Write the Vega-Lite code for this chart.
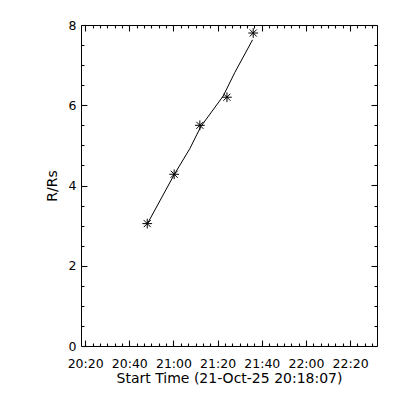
{
  "$schema": "https://vega.github.io/schema/vega-lite/v6.json",
  "width": 296,
  "height": 321,
  "autosize": {"type": "none"},
  "padding": {"left": 81, "top": 25, "right": 23, "bottom": 54},
  "background": "white",
  "config": {
    "view": {"stroke": "black", "strokeWidth": 1},
    "axis": {
      "grid": false,
      "domain": false,
      "ticks": true,
      "labelFont": "DejaVu Sans",
      "labelFontSize": 12.5,
      "labelColor": "black",
      "titleFont": "DejaVu Sans",
      "titleFontSize": 14,
      "titleFontWeight": "normal",
      "titleColor": "black",
      "labelFlush": false,
      "labelOverlap": false
    }
  },
  "datasets": {
    "fit": [
      {"time": "2025-10-21T20:48:07Z", "r": 3.04},
      {"time": "2025-10-21T21:00:19Z", "r": 4.27},
      {"time": "2025-10-21T21:07:25Z", "r": 4.92},
      {"time": "2025-10-21T21:12:25Z", "r": 5.47},
      {"time": "2025-10-21T21:22:31Z", "r": 6.23},
      {"time": "2025-10-21T21:27:49Z", "r": 6.82},
      {"time": "2025-10-21T21:35:49Z", "r": 7.63}
    ],
    "obs": [
      {"time": "2025-10-21T20:48:07Z", "r": 3.05},
      {"time": "2025-10-21T21:00:19Z", "r": 4.28},
      {"time": "2025-10-21T21:11:57Z", "r": 5.5},
      {"time": "2025-10-21T21:24:13Z", "r": 6.2},
      {"time": "2025-10-21T21:36:07Z", "r": 7.8}
    ]
  },
  "layer": [
    {
      "data": {"name": "obs"},
      "mark": {"type": "point", "opacity": 0},
      "encoding": {
        "x": {
          "field": "time", "type": "temporal",
          "scale": {"type": "utc", "domain": [1761077887000, 1761085931000]},
          "axis": {
            "orient": "bottom", "labels": false, "title": null, "tickSize": -3, "tickColor": "#010101", "tickWidth": 1.1,
            "values": [1761078200000,1761078400000,1761078600000,1761078800000,1761079000000,1761079400000,1761079600000,1761079800000,1761080000000,1761080200000,1761080600000,1761080800000,1761081000000,1761081200000,1761081400000,1761081800000,1761082000000,1761082200000,1761082400000,1761082600000,1761083000000,1761083200000,1761083400000,1761083600000,1761083800000,1761084200000,1761084400000,1761084600000,1761084800000,1761085000000,1761085400000,1761085600000,1761085800000]
          }
        },
        "y": {
          "field": "r", "type": "quantitative",
          "scale": {"domain": [0, 8], "nice": false, "zero": false},
          "axis": {
            "orient": "left", "labels": false, "title": null, "tickSize": -3, "tickColor": "#020202", "tickWidth": 1.1,
            "values": [0.5,1,1.5,2.5,3,3.5,4.5,5,5.5,6.5,7,7.5]
          }
        }
      }
    },
    {
      "data": {"name": "obs"},
      "mark": {"type": "point", "opacity": 0},
      "encoding": {
        "x": {
          "field": "time", "type": "temporal",
          "scale": {"type": "utc", "domain": [1761077887000, 1761085931000]},
          "axis": {
            "orient": "top", "labels": false, "title": null, "tickSize": -3, "tickColor": "#030303", "tickWidth": 1.1,
            "values": [1761078200001,1761078400001,1761078600001,1761078800001,1761079000001,1761079400001,1761079600001,1761079800001,1761080000001,1761080200001,1761080600001,1761080800001,1761081000001,1761081200001,1761081400001,1761081800001,1761082000001,1761082200001,1761082400001,1761082600001,1761083000001,1761083200001,1761083400001,1761083600001,1761083800001,1761084200001,1761084400001,1761084600001,1761084800001,1761085000001,1761085400001,1761085600001,1761085800001]
          }
        },
        "y": {
          "field": "r", "type": "quantitative",
          "scale": {"domain": [0, 8], "nice": false, "zero": false},
          "axis": {
            "orient": "right", "labels": false, "title": null, "tickSize": -3, "tickColor": "#040404", "tickWidth": 1.1,
            "values": [0.5001,1.0001,1.5001,2.5001,3.0001,3.5001,4.5001,5.0001,5.5001,6.5001,7.0001,7.5001]
          }
        }
      }
    },
    {
      "data": {"name": "fit"},
      "mark": {"type": "line", "color": "black", "strokeWidth": 1},
      "encoding": {
        "x": {
          "field": "time", "type": "temporal",
          "scale": {"type": "utc", "domain": [1761077887000, 1761085931000]},
          "axis": {
            "orient": "top", "labels": false, "title": null, "tickSize": -6, "tickColor": "#050505", "tickWidth": 1.1,
            "values": [1761078000001,1761079200001,1761080400001,1761081600001,1761082800001,1761084000001,1761085200001]
          }
        },
        "y": {
          "field": "r", "type": "quantitative",
          "scale": {"domain": [0, 8], "nice": false, "zero": false},
          "axis": {
            "orient": "right", "labels": false, "title": null, "tickSize": -6, "tickColor": "#060606", "tickWidth": 1.1,
            "values": [0.0001,2.0001,4.0001,6.0001,7.9999]
          }
        }
      }
    },
    {
      "data": {"name": "obs"},
      "mark": {
        "type": "point",
        "shape": "M-1,0L1,0M0,-1L0,1M-0.72,-0.72L0.72,0.72M-0.72,0.72L0.72,-0.72",
        "size": 95,
        "filled": false,
        "stroke": "black",
        "strokeWidth": 1,
        "opacity": 1
      },
      "encoding": {
        "x": {
          "field": "time", "type": "temporal",
          "scale": {"type": "utc", "domain": [1761077887000, 1761085931000]},
          "axis": {
            "orient": "bottom",
            "title": "Start Time (21-Oct-25 20:18:07)",
            "titlePadding": 2,
            "format": "%H:%M",
            "ticks": true,
            "tickSize": -6,
            "tickColor": "#070707",
            "tickWidth": 1.1,
            "labelPadding": 17,
            "values": [1761078000000,1761079200000,1761080400000,1761081600000,1761082800000,1761084000000,1761085200000]
          }
        },
        "y": {
          "field": "r", "type": "quantitative",
          "scale": {"domain": [0, 8], "nice": false, "zero": false},
          "axis": {
            "orient": "left",
            "title": "R/Rs",
            "titlePadding": 9,
            "format": "d",
            "ticks": true,
            "tickSize": -6,
            "tickColor": "#080808",
            "tickWidth": 1.1,
            "labelPadding": 11,
            "values": [0,2,4,6,8]
          }
        }
      }
    }
  ],
  "resolve": {"axis": {"x": "independent", "y": "independent"}}
}
